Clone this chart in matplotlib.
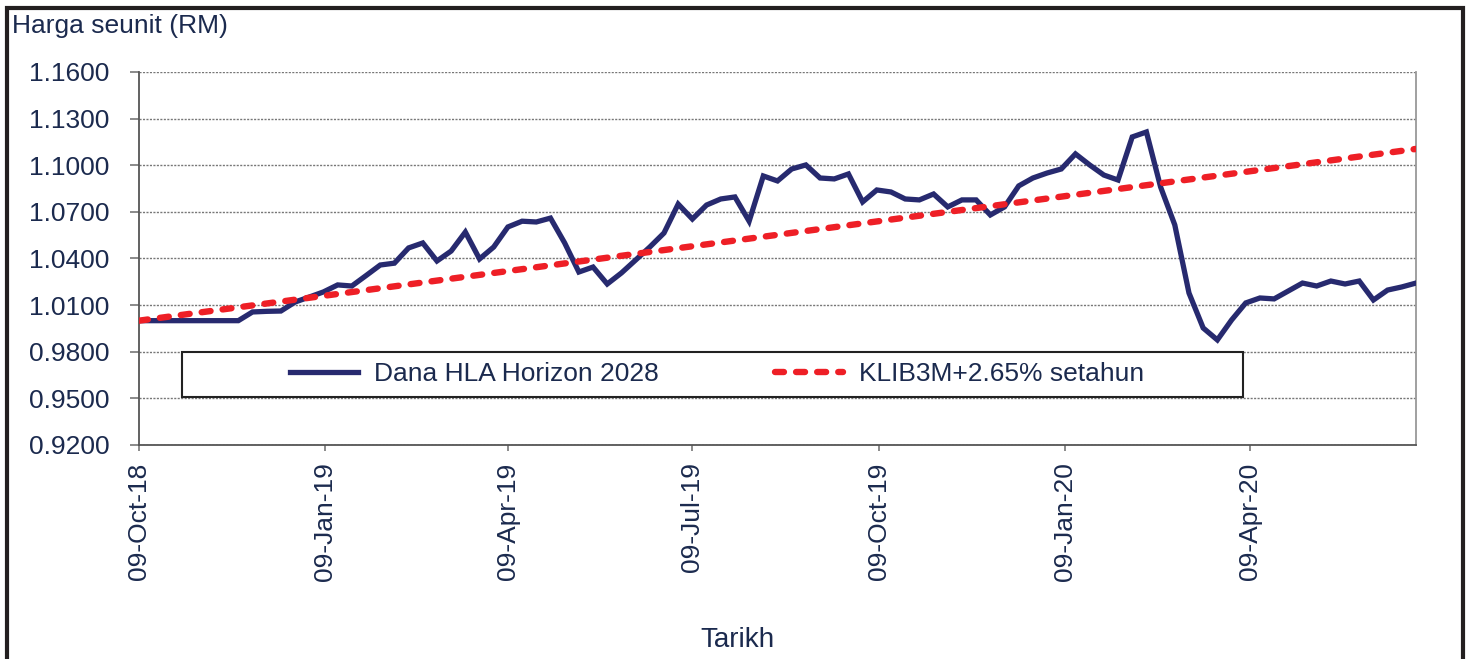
import matplotlib
matplotlib.use("Agg")
import matplotlib.pyplot as plt
from matplotlib.patches import Rectangle
import pandas as pd

plt.rcParams['font.family'] = ['Liberation Sans', 'DejaVu Sans']

# weekly unit prices
start_date = "2018-10-09"
fund = [1.0000, 1.0000, 1.0000, 1.0000, 1.0000, 1.0000, 1.0000, 1.0000,
        1.0056, 1.0060, 1.0062, 1.0120, 1.0152, 1.0185, 1.0230, 1.0223,
        1.0290, 1.0358, 1.0370, 1.0468, 1.0500, 1.0384, 1.0448, 1.0570,
        1.0397, 1.0474, 1.0603, 1.0640, 1.0635, 1.0660, 1.0500, 1.0313,
        1.0345, 1.0236, 1.0307, 1.0390, 1.0474, 1.0564, 1.0750, 1.0654,
        1.0744, 1.0783, 1.0796, 1.0640, 1.0931, 1.0899, 1.0976, 1.1002,
        1.0918, 1.0912, 1.0944, 1.0764, 1.0841, 1.0828, 1.0783, 1.0777,
        1.0815, 1.0732, 1.0777, 1.0777, 1.0680, 1.0732, 1.0867, 1.0918,
        1.0950, 1.0976, 1.1073, 1.1002, 1.0937, 1.0905, 1.1182, 1.1214,
        1.0860, 1.0616, 1.0178, 0.9953, 0.9876, 1.0004, 1.0114, 1.0146,
        1.0140, 1.0191, 1.0242, 1.0223, 1.0255, 1.0236, 1.0255, 1.0133,
        1.0197, 1.0217, 1.0242]
dates = pd.date_range(start_date, periods=len(fund), freq="7D")

bench_dates = [dates[0], dates[-1]]
bench = [1.0000, 1.1105]

tick_dates = ["2018-10-09", "2019-01-09", "2019-04-09", "2019-07-09",
              "2019-10-09", "2020-01-09", "2020-04-09"]
tick_labels = ["09-Oct-18", "09-Jan-19", "09-Apr-19", "09-Jul-19",
               "09-Oct-19", "09-Jan-20", "09-Apr-20"]
y_ticks = [0.92, 0.95, 0.98, 1.01, 1.04, 1.07, 1.10, 1.13, 1.16]

txt = '#1b2a4e'
fs = 19
W, H = 1468, 659
fig = plt.figure(figsize=(W / 100, H / 100), dpi=100)
ax = fig.add_axes([139 / W, 1 - 445 / H, (1416 - 139) / W, (445 - 72) / H])

ax.plot(dates, fund, color='#272a6f', lw=3.8, label='Dana HLA Horizon 2028',
        solid_joinstyle='miter', zorder=3)
ax.plot(bench_dates, bench, color='#ee1f26', lw=4.6, dashes=(1.4, 1.9),
        dash_capstyle='round', label='KLIB3M+2.65% setahun', zorder=4)

ax.set_xlim(dates[0], dates[-1])
ax.set_ylim(0.92, 1.16)
ax.set_yticks(y_ticks)
ax.set_yticklabels([f"{v:.4f}" for v in y_ticks])
ax.set_xticks(pd.to_datetime(tick_dates))
ax.set_xticklabels(tick_labels, rotation=90)

ax.grid(axis='y', color='#777777', lw=1.0, linestyle=(0, (1.5, 1)))
ax.set_axisbelow(True)
ax.spines['top'].set_visible(False)
ax.spines['left'].set_color('#555555')
ax.spines['bottom'].set_color('#555555')
ax.spines['right'].set_color('#999999')
for s in ('left', 'bottom', 'right'):
    ax.spines[s].set_linewidth(1.3)
ax.tick_params(axis='y', length=6.5, width=1.2, color='#777777', pad=15,
               labelsize=fs, labelcolor=txt)
ax.tick_params(axis='x', length=4.5, width=1.2, color='#777777', pad=8,
               labelsize=fs, labelcolor=txt)

# legend box
box = Rectangle((182 / W, 1 - 397 / H), 1061 / W, 45 / H,
                transform=fig.transFigure, facecolor='white',
                edgecolor='#222222', lw=1.5, zorder=5, clip_on=False)
ax.add_patch(box)
leg = ax.legend(loc='center', bbox_to_anchor=(717 / W, 1 - 374 / H),
                bbox_transform=fig.transFigure, ncol=2, frameon=False,
                fontsize=fs, handlelength=2.6, handletextpad=0.6,
                columnspacing=4.4)
leg.set_zorder(6)
for t in leg.get_texts():
    t.set_color(txt)

fig.text(12 / W, 1 - 33 / H, "Harga seunit (RM)", fontsize=fs, color=txt,
         va='baseline', ha='left')
fig.text(737 / W, 1 - 640 / H, "Tarikh", fontsize=20, color=txt,
         va='center', ha='center')

# outer frame
fig.add_artist(Rectangle((7 / W, -0.05), (1463 - 7) / W, 1 - 8 / H + 0.05,
                         transform=fig.transFigure, fill=False,
                         edgecolor='#231f20', lw=3))

fig.savefig("out.png", dpi=100)
